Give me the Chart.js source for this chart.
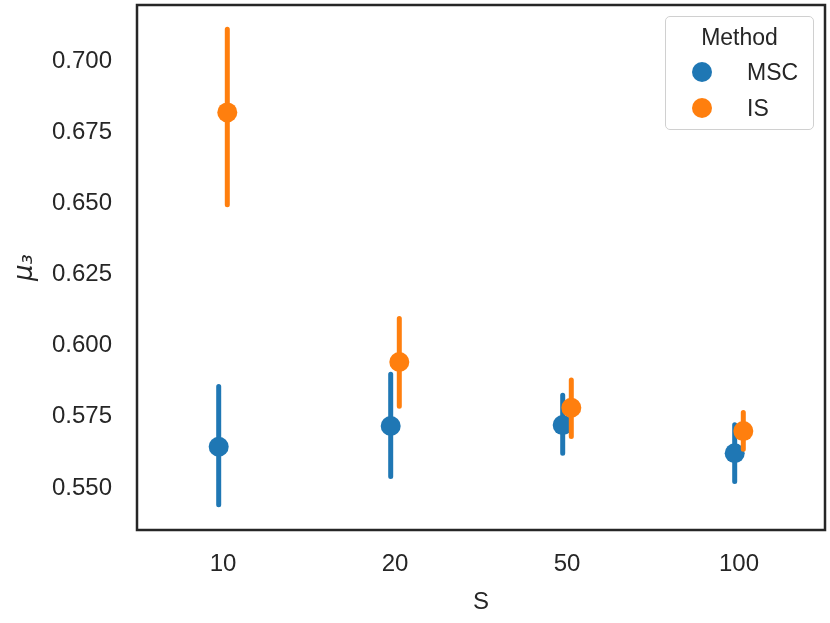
<!DOCTYPE html>
<html>
<head>
<meta charset="utf-8">
<script src="https://cdn.jsdelivr.net/npm/chart.js@4"></script>
<style>
  body { margin: 0; background: #fff; }
  #wrap { position: relative; width: 830px; height: 623px; }
  #legend {
    position: absolute; left: 665px; top: 16px; width: 147px; height: 112px;
    border: 1.3px solid #d0d0d0; border-radius: 5px; background: rgba(255,255,255,0.8);
    font-family: "Liberation Sans", Arial, sans-serif; color: #262626; font-size: 23px;
  }
  #legend .title { position: absolute; left: 0; width: 100%; top: 7px; text-align: center; }
  #legend .row { position: absolute; left: 0; width: 100%; height: 26px; line-height: 26px; }
  #legend .dot { position: absolute; left: 26px; top: 3px; width: 20px; height: 20px; border-radius: 50%; }
  #legend .lab { position: absolute; left: 81px; top: 0; }
</style>
</head>
<body>
<div id="wrap">
  <canvas id="myChart" width="830" height="623"></canvas>
  <div id="legend"></div>
</div>
<script>
const categories = ['10', '20', '50', '100'];
const methods = ['MSC', 'IS'];
const colors = ['#1f77b4', '#ff7f0e'];

// point estimates
const mscMean = [0.5645, 0.5718, 0.5721, 0.5622];
const isMean  = [0.6821, 0.5943, 0.5782, 0.5700];
// confidence interval ends
const mscLow  = [0.5441, 0.5540, 0.5622, 0.5523];
const mscHigh = [0.5857, 0.5900, 0.5826, 0.5722];
const isLow   = [0.6496, 0.5787, 0.5681, 0.5636];
const isHigh  = [0.7114, 0.6096, 0.5880, 0.5765];

const yTicks = [0.550, 0.575, 0.600, 0.625, 0.650, 0.675, 0.700];

const dodge = 0.025;
const textColor = '#262626';
const fontFam = '"Liberation Sans", Arial, sans-serif';

function points(mean, off) {
  return mean.map((v, i) => ({x: i + off, y: v}));
}
function errLines(lo, hi, off) {
  const out = [];
  lo.forEach((v, i) => {
    out.push({x: i + off, y: v});
    out.push({x: i + off, y: hi[i]});
    out.push({x: i + off, y: null});
  });
  return out;
}

// keep label padding from pushing the plot area around
function noPad(s) {
  s.paddingTop = 0; s.paddingBottom = 0; s.paddingLeft = 0; s.paddingRight = 0;
}

const frame = {
  id: 'frame',
  afterDraw(chart) {
    const a = chart.chartArea, c = chart.ctx;
    c.save();
    c.strokeStyle = textColor;
    c.lineWidth = 2.5;
    c.strokeRect(a.left, a.top, a.right - a.left, a.bottom - a.top);
    c.restore();
  }
};

const ctx = document.getElementById('myChart');
new Chart(ctx, {
  type: 'line',
  data: {
    datasets: [
      {label: 'MSC ci', data: errLines(mscLow, mscHigh, -dodge), borderColor: colors[0], borderWidth: 5,
        borderCapStyle: 'round', pointRadius: 0, spanGaps: false, order: 4},
      {label: 'MSC', data: points(mscMean, -dodge), showLine: false, pointRadius: 10, pointBorderWidth: 0,
        backgroundColor: colors[0], borderColor: colors[0], order: 3},
      {label: 'IS ci', data: errLines(isLow, isHigh, dodge), borderColor: colors[1], borderWidth: 5,
        borderCapStyle: 'round', pointRadius: 0, spanGaps: false, order: 2},
      {label: 'IS', data: points(isMean, dodge), showLine: false, pointRadius: 10, pointBorderWidth: 0,
        backgroundColor: colors[1], borderColor: colors[1], order: 1}
    ]
  },
  options: {
    responsive: false,
    animation: false,
    events: [],
    layout: {autoPadding: false, padding: {top: 5, right: 5, left: 0, bottom: 0}},
    plugins: {legend: {display: false}, tooltip: {enabled: false}},
    scales: {
      x: {
        type: 'linear', min: -0.5, max: 3.5,
        grid: {display: false, drawTicks: false}, border: {display: false},
        afterBuildTicks: s => { s.ticks = categories.map((c, i) => ({value: i})); },
        afterFit: s => { s.height = 93; noPad(s); },
        ticks: {color: textColor, font: {family: fontFam, size: 24}, padding: 20,
          callback: v => categories[v]},
        title: {display: true, text: 'S', color: textColor, font: {family: fontFam, size: 24},
          padding: {top: 0, bottom: 6}}
      },
      y: {
        min: 0.5352, max: 0.7199,
        grid: {display: false, drawTicks: false}, border: {display: false},
        afterBuildTicks: s => { s.ticks = yTicks.map(v => ({value: v})); },
        afterFit: s => { s.width = 137; noPad(s); },
        ticks: {color: textColor, font: {family: fontFam, size: 24}, padding: 25,
          callback: v => v.toFixed(3)},
        title: {display: true, text: 'μ₃', color: textColor,
          font: {family: '"DejaVu Sans", sans-serif', size: 26, style: 'italic'}, padding: {top: 10, bottom: 0}}
      }
    }
  },
  plugins: [frame]
});

// legend box
const lg = document.getElementById('legend');
let html = '<div class="title">Method</div>';
methods.forEach((m, i) => {
  html += '<div class="row" style="top:' + (42 + i * 36) + 'px"><span class="dot" style="background:' +
    colors[i] + '"></span><span class="lab">' + m + '</span></div>';
});
lg.innerHTML = html;
</script>
</body>
</html>
